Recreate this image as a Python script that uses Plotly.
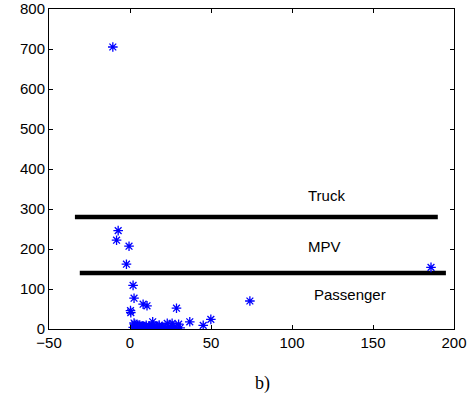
import plotly.graph_objects as go

# scattered points
x_pts = [-10.6, -7.3, -8.3, -0.6, -2.2, 1.9, 2.5, 0.5, 0.3, 8.1, 10.5, 28.7, 36.9, 45.2, 49.9, 74, 185.8,
         14, 26, 23, 18, 30]
y_pts = [705, 246, 222, 207, 162, 109, 77, 41, 46, 62, 58, 52, 18, 9, 24, 70, 154,
         18, 14, 14, 10, 12]
# dense cluster near origin
x_cl = [2, 3, 3.5, 4, 4.5, 5, 5.5, 6, 6.5, 7, 7.5, 8, 8.5, 9, 9.5, 10, 11, 12, 13, 15, 16, 17, 19, 20, 21, 22,
        24, 25, 27, 29, 31, 3, 4, 5, 6, 7, 8, 9, 10, 2.5, 12, 14, 18, 26]
y_cl = [4, 2, 8, 1, 5, 3, 0, 6, 2, 4, 1, 3, 5, 2, 0, 4, 3, 2, 5, 4, 2, 6, 3, 5, 4, 2,
        6, 3, 4, 2, 3, 12, 6, 9, 10, 7, 8, 6, 9, 15, 7, 9, 7, 8]

truck_x = [-34, 190]
truck_y = [280, 280]
pass_x = [-31, 195]
pass_y = [140, 140]

labels = ["Truck", "MPV", "Passenger"]
label_x = [121, 120, 136]
label_y = [335, 207, 87]

L, R, T, B = 49, 454, 9, 329

fig = go.Figure()
fig.add_trace(go.Scatter(x=truck_x, y=truck_y, mode="lines", line=dict(color="black", width=4.5),
                         showlegend=False, hoverinfo="skip"))
fig.add_trace(go.Scatter(x=pass_x, y=pass_y, mode="lines", line=dict(color="black", width=4.5),
                         showlegend=False, hoverinfo="skip"))
fig.add_trace(go.Scatter(x=x_pts + x_cl, y=y_pts + y_cl, mode="markers",
                         marker=dict(symbol="asterisk", size=8, line=dict(color="blue", width=1.3), color="blue"),
                         showlegend=False))
for t, lx, ly in zip(labels, label_x, label_y):
    fig.add_annotation(x=lx, y=ly, text=t, showarrow=False,
                       font=dict(family="Liberation Sans, Arial", size=15, color="black"))
fig.add_annotation(x=(262 - L) / (R - L), y=-(383 - B) / (B - T), xref="paper", yref="paper",
                   text="b)", showarrow=False, xanchor="center", yanchor="middle",
                   font=dict(family="Liberation Serif, Times New Roman", size=18, color="black"))

axis_common = dict(showline=True, linecolor="black", linewidth=1, mirror="ticks", ticks="inside",
                   ticklen=4, tickcolor="black", showgrid=False, zeroline=False, automargin=False,
                   tickfont=dict(family="Liberation Sans, Arial", size=15, color="black"))
fig.update_xaxes(range=[-50, 200], dtick=50, tick0=-50, **axis_common)
fig.update_yaxes(range=[0, 800], dtick=100, tick0=0, **axis_common)
fig.update_layout(width=473, height=400, margin=dict(l=L, r=473 - R, t=T, b=400 - B),
                  plot_bgcolor="white", paper_bgcolor="white")
fig.write_html("out.html", config={"displayModeBar": False},
               post_script="document.body.style.margin='0';document.body.style.overflow='hidden';")
